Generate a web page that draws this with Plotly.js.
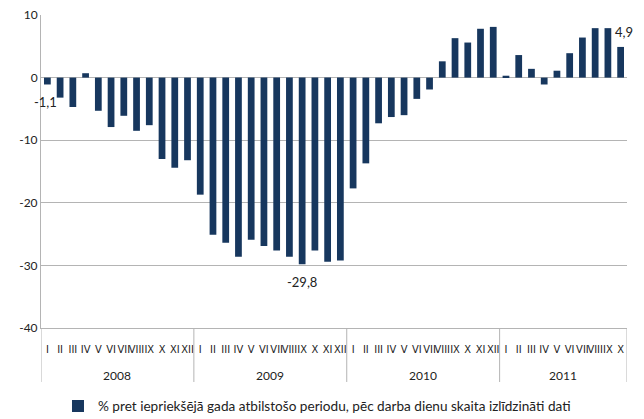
<!DOCTYPE html>
<html>
<head>
<meta charset="utf-8">
<script src="https://cdn.plot.ly/plotly-3.0.1.min.js"></script>
<style>
  html, body { margin: 0; padding: 0; background: #fff; }
  #chartBox { width: 644px; height: 419px; }
</style>
</head>
<body>
<div id="chartBox"></div>
<script>
// gadi un mēneši (romiešu cipari)
const years = ['2008', '2009', '2010', '2011'];
const monthsPerYear = [12, 12, 12, 10];
const monthNames = ['I', 'II', 'III', 'IV', 'V', 'VI', 'VII', 'VIII', 'IX', 'X', 'XI', 'XII'];

// % pret iepriekšējā gada atbilstošo periodu
const values2008 = [-1.1, -3.2, -4.7, 0.7, -5.3, -7.9, -6.1, -8.5, -7.6, -13.0, -14.4, -13.2];
const values2009 = [-18.7, -25.1, -26.4, -28.6, -25.9, -26.9, -27.6, -28.6, -29.8, -27.6, -29.4, -29.2];
const values2010 = [-17.7, -13.7, -7.3, -6.3, -6.0, -3.4, -1.9, 2.6, 6.3, 5.6, 7.8, 8.1];
const values2011 = [0.3, 3.6, 1.4, -1.1, 1.1, 3.9, 6.4, 7.9, 7.9, 4.9];

// y ass iedaļas
const yTickVals = [10, 0, -10, -20, -30, -40];
const yTickText = ['10', '0', '-10', '-20', '-30', '-40'];

// vērtības ar datu etiķetēm
const labelled = [0, 20, 45];
const labelText = ['-1,1', '-29,8', '4,9'];

const seriesName = '% pret iepriekšējā gada atbilstošo periodu, pēc darba dienu skaita izlīdzināti dati';
const barColor = '#17375e';
const gridColor = '#b4b4b4';
const font = 'Lato, "Open Sans", sans-serif';
const narrowFont = '"Liberation Sans Narrow", "DejaVu Sans Condensed", Lato, sans-serif';

// mēnešu secība un gadu robežas
const idx = [];
const monthCol = [];
const yearStarts = [];
years.forEach((y, i) => {
    yearStarts.push(idx.length);
    for (let m = 0; m < monthsPerYear[i]; m++) {
        idx.push(idx.length);
        monthCol.push(monthNames[m]);
    }
});
const n = idx.length;
const values = [].concat(values2008, values2009, values2010, values2011);

var trace1 = {
    x: idx,
    y: values,
    type: 'bar',
    name: seriesName,
    marker: { color: barColor },
    text: monthCol,
    hovertemplate: '%{text}: %{y}<extra></extra>',
    textposition: 'none',
};

// datu etiķetes
const shifts = [[-2, -18], [0, -18], [3, 15]];
const annotations = labelled.map((i, k) => ({
    xref: 'x', yref: 'y',
    x: i, y: values[i],
    text: labelText[k],
    showarrow: false,
    xshift: shifts[k][0], yshift: shifts[k][1],
    font: { family: font, size: 13, color: '#222' },
}));

// gadu nosaukumi zem mēnešiem
years.forEach((y, i) => {
    annotations.push({
        xref: 'x', yref: 'paper',
        x: yearStarts[i] + (monthsPerYear[i] - 1) / 2,
        y: -0.153,
        text: y,
        showarrow: false,
        yanchor: 'middle',
        font: { family: font, size: 12, color: '#222' },
    });
});

// gadu atdalītāji
const shapes = yearStarts.concat([n]).map(s => ({
    type: 'line',
    xref: 'x', yref: 'paper',
    x0: s - 0.5, x1: s - 0.5,
    y0: 0, y1: -0.1725,
    line: { color: gridColor, width: 1 },
}));

var layout = {
    width: 644,
    height: 419,
    margin: { l: 41, r: 17, t: 15, b: 91, autoexpand: false },
    paper_bgcolor: '#fff',
    plot_bgcolor: '#fff',
    font: { family: font, size: 11, color: '#222' },
    bargap: 0.47,
    showlegend: true,
    legend: {
        orientation: 'h',
        x: 0.029, xanchor: 'left',
        y: -0.25, yanchor: 'middle',
        itemwidth: 30,
        font: { family: font, size: 13.6, color: '#222' },
    },
    xaxis: {
        range: [-0.5, n - 0.5],
        tickmode: 'array',
        tickvals: idx,
        ticktext: monthCol,
        tickangle: 0,
        ticks: '',
        ticklabelstandoff: 11,
        automargin: false,
        showline: true,
        linecolor: gridColor,
        linewidth: 1,
        showgrid: false,
        zeroline: false,
        tickfont: { family: narrowFont, size: 11, color: '#222' },
    },
    // mēnešu robežu iedaļas pie ass apakšā
    xaxis2: {
        overlaying: 'x',
        anchor: 'free',
        position: 0,
        side: 'bottom',
        range: [-0.5, n - 0.5],
        tick0: -0.5,
        dtick: 1,
        ticks: 'outside',
        ticklen: 27,
        tickwidth: 1,
        tickcolor: gridColor,
        showticklabels: false,
        showgrid: false,
        zeroline: false,
        showline: false,
        automargin: false,
    },
    // īsās iedaļas pie nulles līnijas
    xaxis3: {
        overlaying: 'x',
        anchor: 'free',
        position: 0.8,
        side: 'bottom',
        range: [-0.5, n - 0.5],
        tick0: -0.5,
        dtick: 1,
        ticks: 'outside',
        ticklen: 4,
        tickwidth: 1,
        tickcolor: gridColor,
        showticklabels: false,
        showgrid: false,
        zeroline: false,
        showline: false,
        automargin: false,
    },
    yaxis: {
        range: [-40, 10],
        tickmode: 'array',
        tickvals: yTickVals,
        ticktext: yTickText,
        automargin: false,
        showgrid: true,
        gridcolor: gridColor,
        zeroline: true,
        zerolinecolor: gridColor,
        zerolinewidth: 1,
        showline: true,
        linecolor: gridColor,
        ticks: '',
        tickfont: { family: font, size: 12, color: '#222' },
    },
    annotations: annotations,
    shapes: shapes,
};

Plotly.newPlot('chartBox', [trace1], layout, { displayModeBar: false });
</script>
</body>
</html>
